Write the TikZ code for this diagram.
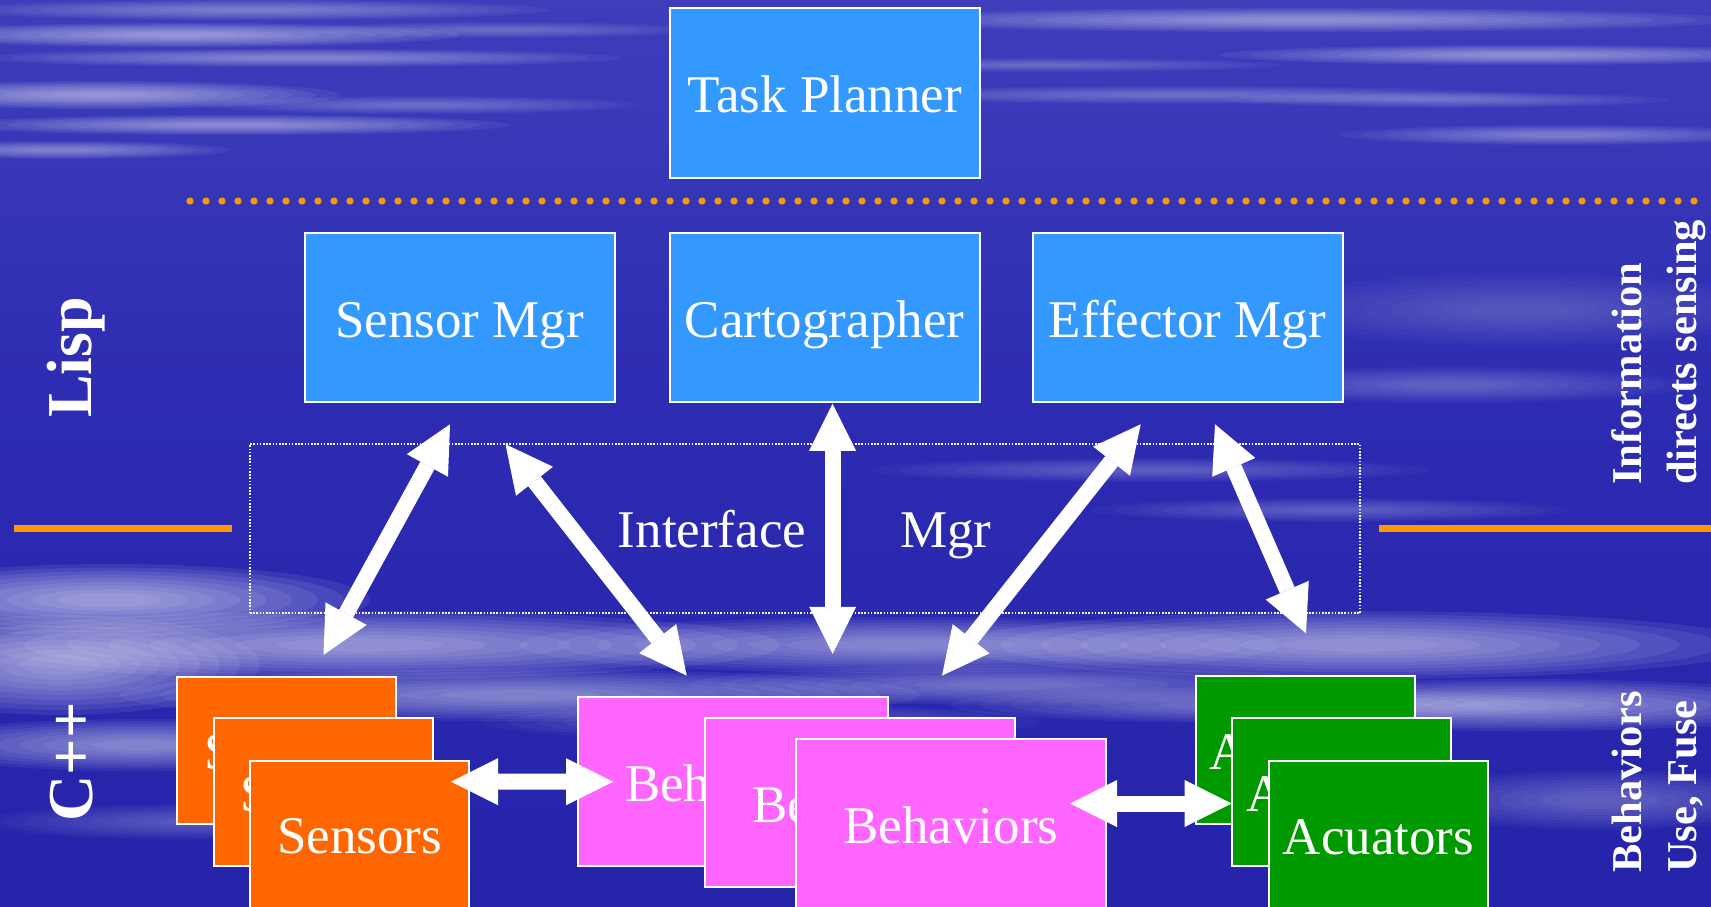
\documentclass[tikz,border=0pt]{standalone}
\usepackage{fontspec}
\setmainfont{Liberation Serif}
\usetikzlibrary{arrows.meta,calc}

\definecolor{bgblue}{HTML}{2B2AB1}
\definecolor{bgtop}{HTML}{3E3EBB}
\definecolor{bgbot}{HTML}{2423AA}
\definecolor{mgrblue}{HTML}{3399FF}
\definecolor{senorange}{HTML}{FF6600}
\definecolor{behpink}{HTML}{FF66FF}
\definecolor{actgreen}{HTML}{009900}
\definecolor{lineorange}{HTML}{FF9900}

\tikzset{
  box/.style={draw=white, line width=2pt, inner sep=0pt, outer sep=0pt,
    text=white, font=\fontsize{53}{60}\selectfont, text height=39pt, text depth=0pt},
  mgrbox/.style={box, fill=mgrblue, minimum width=310pt, minimum height=169.5pt},
  senbox/.style={box, fill=senorange, minimum width=219pt, minimum height=147.5pt},
  behbox/.style={box, fill=behpink, minimum width=310pt, minimum height=169pt},
  actbox/.style={box, fill=actgreen, minimum width=219pt, minimum height=148pt},
  dbl/.style={white, line width=16pt,
    {Triangle[length=47pt,width=47pt,line width=0pt]}-{Triangle[length=47pt,width=47pt,line width=0pt]}},
  sidelabel/.style={text=white, font=\bfseries\fontsize{42.5}{50}\selectfont,
    rotate=90, anchor=base west, inner sep=0pt},
  langlabel/.style={text=white, font=\bfseries\fontsize{64}{70}\selectfont,
    rotate=90, anchor=base, inner sep=0pt},
  midlabel/.style={text=white, font=\fontsize{53}{60}\selectfont, anchor=base, inner sep=0pt},
}

\begin{document}
\begin{tikzpicture}[x=1pt,y=-1pt]
\useasboundingbox (0,0) rectangle (1711,907);

% ---- backdrop: deep blue sky with soft pale streaks
\begin{scope}
\clip (0,0) rectangle (1711,907);
\shade[top color=bgtop, bottom color=bgbot, middle color=bgblue] (0,0) rectangle (1711,907);
\foreach \cx/\cy/\rx/\ry/\op in {
  180/35/280/12/.4, 300/58/320/9/.3, 100/95/240/14/.4, 230/125/280/10/.35,
  60/150/170/9/.3, 420/105/220/9/.22, 500/30/200/8/.18, 250/10/300/10/.25,
  1300/20/440/12/.35, 1520/55/300/10/.35, 1180/95/340/9/.22, 1560/135/220/10/.28,
  1040/65/240/7/.18, 1450/100/220/8/.22,
  1520/310/260/36/.14, 1450/385/240/18/.18, 1150/470/280/12/.18, 1330/510/240/12/.18,
  110/600/260/36/.5, 60/665/200/50/.45, 360/645/420/34/.45, 520/695/400/26/.35,
  900/645/380/28/.38, 1010/685/320/20/.28, 1360/645/400/34/.45, 1520/705/320/26/.4,
  1250/705/300/18/.28, 140/745/240/26/.38, 1600/800/200/30/.22, 760/722/280/18/.22,
  200/822/220/18/.18}
{
  \pgfmathsetmacro{\lay}{\op/6}
  \foreach \k in {0,...,8}{
    \pgfmathsetmacro{\sc}{1-\k/10}
    \fill[white, opacity=\lay] (\cx,\cy) ellipse [x radius={\rx*\sc}, y radius={\ry*\sc}];
  }
}
\end{scope}

% ---- layer separators
\foreach \i in {0,...,94}
  \fill[lineorange] (190+16*\i,201) circle (3.6);
\draw[lineorange, line width=7pt] (14,528.7) -- (232,528.7);
\draw[lineorange, line width=7pt] (1379,528.7) -- (1711,528.7);

% ---- planning layer
\node[mgrbox] (tp) at (824.75,93.25) {Task Planner};
\node[mgrbox] (smgr) at (459.5,317.5) {Sensor Mgr};
\node[mgrbox] (carto) at (824.5,317.5) {Cartographer};
\node[mgrbox] (emgr) at (1187.5,317.5) {Effector Mgr};

% ---- interface manager region
\node[draw=white, line width=1.4pt, dash pattern=on 1.6pt off 1.6pt,
      minimum width=1110pt, minimum height=169pt, inner sep=0pt, outer sep=0pt]
      (ifbox) at (805,528.5) {};
\node[midlabel] (iflabel) at (712,547.5) {Interface};
\node[midlabel] (mgrlabel) at (946,547.5) {Mgr};

% ---- reactive layer: stacked boxes, back to front
\node[senbox] (sen1) at (286.65,750.35) {Sensors};
\node[senbox] (sen2) at (323,792.15) {Sensors};
\node[senbox] (sen3) at (359.5,834.35) {Sensors};

\node[behbox] (beh1) at (732.5,781.7) {Behaviors};
\node[behbox] (beh2) at (860,802.7) {Behaviors};
\node[behbox] (beh3) at (951,823.7) {Behaviors};

\node[actbox] (act1) at (1305.5,750) {Acuators};
\node[actbox] (act2) at (1341.8,792.2) {Acuators};
\node[actbox] (act3) at (1378.5,834.7) {Acuators};

% ---- side captions
\node[langlabel] (lisp) at (91,357.5) {Lisp};
\node[langlabel] (cpp) at (92,762) {C++};
\node[sidelabel] (infoA) at (1641,485) {Information};
\node[sidelabel] (infoB) at (1696,485) {directs sensing};
\node[sidelabel] (useA) at (1641,873) {Behaviors};
\node[sidelabel] (useB) at (1696,873) {Use, Fuse};

% ---- arrow end points
\coordinate (a1u) at ($(smgr.south)+(-9.5,22)$);
\coordinate (a1d) at ($(sen1.north)+(36.85,-21.7)$);
\coordinate (a2u) at ($(smgr.south)+(46,42)$);
\coordinate (a2d) at ($(beh1.north)+(-45.8,-21.6)$);
\coordinate (a3u) at ($(carto.south)+(8.1,1.5)$);
\coordinate (a3d) at ($(beh1.north)+(100.1,-43.3)$);
\coordinate (a4u) at ($(emgr.south)+(-46.8,22)$);
\coordinate (a4d) at ($(beh1.north)+(209.5,-21.6)$);
\coordinate (a5u) at ($(emgr.south)+(27.5,22)$);
\coordinate (a5d) at ($(act1.north)+(0.5,-42.7)$);
\coordinate (a6l) at ($(sen3.east)+(-18,-52.65)$);
\coordinate (a6r) at ($(beh1.west)+(35.6,0)$);
\coordinate (a7l) at ($(beh3.east)+(-36,-20.2)$);
\coordinate (a7r) at ($(act2.west)+(-0.6,11.3)$);

% ---- two-way data flows
\draw[dbl] (a1u) -- (a1d);
\draw[dbl] (a2u) -- (a2d);
\draw[dbl] (a3u) -- (a3d);
\draw[dbl] (a4u) -- (a4d);
\draw[dbl] (a5u) -- (a5d);
\draw[dbl] (a6l) -- (a6r);
\draw[dbl] (a7l) -- (a7r);
\end{tikzpicture}
\end{document}
